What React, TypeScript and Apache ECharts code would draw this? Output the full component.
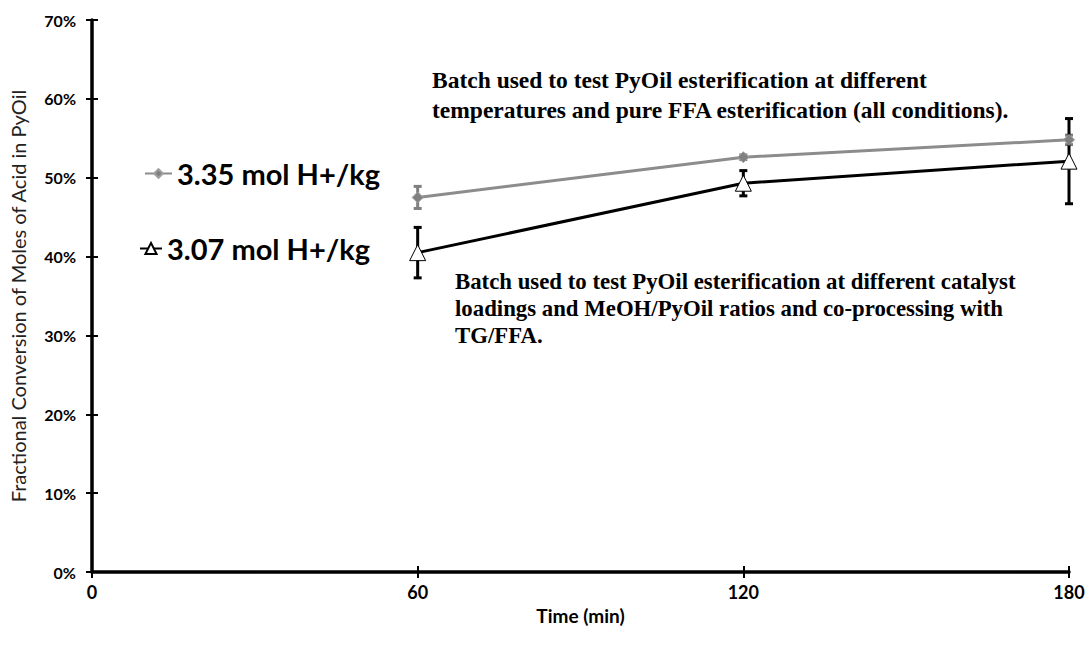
import React, { useEffect, useRef } from "react";
import * as echarts from "echarts";

// Time points (min)
const times = [60, 120, 180];

// Fractional conversion (%) for each acid-content batch
const batchHighLabel = "3.35 mol H+/kg";
const batchHighValues = [47.5, 52.6, 54.8];
const batchHighErr = [1.4, 0.3, 0.6];

const batchLowLabel = "3.07 mol H+/kg";
const batchLowValues = [40.5, 49.3, 52.1];
const batchLowErr = [3.2, 1.6, 5.4];

const xTicks = [0, 60, 120, 180];
const yTicks = [0, 10, 20, 30, 40, 50, 60, 70];

const noteTop = [
  "Batch used to test PyOil esterification at different",
  "temperatures and pure FFA esterification (all conditions).",
];
const noteBottom = [
  "Batch used to test PyOil esterification at different catalyst",
  "loadings and MeOH/PyOil ratios and co-processing with",
  "TG/FFA.",
];

const labelFont = "Lato, 'Open Sans', sans-serif";
const serifFont = "'Liberation Serif', 'DejaVu Serif', serif";

function errorBarSeries(values: number[], errs: number[], color: string) {
  const data = times.map((t, i) => [t, values[i] - errs[i], values[i] + errs[i]]);
  return {
    type: "custom",
    silent: true,
    z: 3,
    renderItem: (_params: any, api: any) => {
      const x = api.value(0);
      const lo = api.coord([x, api.value(1)]);
      const hi = api.coord([x, api.value(2)]);
      const cap = 4;
      const style = { stroke: color, lineWidth: 3 };
      return {
        type: "group",
        children: [
          { type: "line", shape: { x1: lo[0], y1: lo[1], x2: hi[0], y2: hi[1] }, style },
          { type: "line", shape: { x1: hi[0] - cap, y1: hi[1], x2: hi[0] + cap, y2: hi[1] }, style },
          { type: "line", shape: { x1: lo[0] - cap, y1: lo[1], x2: lo[0] + cap, y2: lo[1] }, style },
        ],
      };
    },
    data,
  };
}

export default function App() {
  const ref = useRef<HTMLDivElement>(null);

  useEffect(() => {
    if (!ref.current) return;
    const chart = echarts.init(ref.current, null, { renderer: "svg" });
    const grid = { left: 85, right: 22, top: 20, bottom: 75, containLabel: false };
    const axisLine = { lineStyle: { color: "#000", width: 3.5 } };
    const legendText = { fontFamily: labelFont, fontWeight: "bold", fontSize: 29, color: "#000" };

    const option: any = {
      animation: false,
      backgroundColor: "#fff",
      grid,
      legend: [
        {
          data: [batchHighLabel],
          left: 139,
          top: 154,
          itemWidth: 27,
          itemHeight: 11,
          itemGap: 2,
          textStyle: legendText,
        },
        {
          data: [batchLowLabel],
          left: 134,
          top: 229,
          itemWidth: 22,
          itemHeight: 14,
          itemGap: 2,
          textStyle: legendText,
        },
      ],
      xAxis: [
        {
          type: "value",
          min: 0,
          max: 180,
          interval: 60,
          name: "Time (min)",
          nameLocation: "middle",
          nameGap: 34,
          nameTextStyle: { fontFamily: labelFont, fontWeight: "bold", fontSize: 19, color: "#000" },
          axisLine,
          axisTick: { show: true, length: 6, lineStyle: { color: "#000", width: 2 } },
          axisLabel: {
            fontFamily: labelFont,
            fontWeight: "bold",
            fontSize: 18,
            color: "#000",
            margin: 11,
            customValues: xTicks,
          },
          splitLine: { show: false },
        },
        {
          type: "value",
          min: 0,
          max: 180,
          interval: 60,
          position: "bottom",
          axisLine: { show: false },
          axisTick: { show: true, inside: true, length: 6, lineStyle: { color: "#000", width: 2 } },
          axisLabel: { show: false },
          splitLine: { show: false },
        },
      ],
      yAxis: [
        {
          type: "value",
          min: 0,
          max: 70,
          interval: 10,
          name: "Fractional Conversion of Moles of Acid in PyOil",
          nameLocation: "middle",
          nameGap: 64,
          nameTextStyle: { fontFamily: labelFont, fontSize: 20, color: "#222" },
          axisLine,
          axisTick: { show: true, length: 6, lineStyle: { color: "#000", width: 2 } },
          axisLabel: {
            fontFamily: labelFont,
            fontWeight: "bold",
            fontSize: 16,
            color: "#000",
            margin: 16,
            formatter: "{value}%",
            customValues: yTicks,
          },
          splitLine: { show: false },
        },
        {
          type: "value",
          min: 0,
          max: 70,
          interval: 10,
          position: "left",
          axisLine: { show: false },
          axisTick: { show: true, inside: true, length: 6, lineStyle: { color: "#000", width: 2 } },
          axisLabel: { show: false },
          splitLine: { show: false },
        },
      ],
      series: [
        errorBarSeries(batchHighValues, batchHighErr, "#7f7f7f"),
        errorBarSeries(batchLowValues, batchLowErr, "#000"),
        {
          name: batchHighLabel,
          type: "line",
          z: 4,
          data: times.map((t, i) => [t, batchHighValues[i]]),
          lineStyle: { color: "#8c8c8c", width: 3 },
          itemStyle: { color: "#808080", borderColor: "#a0a0a0", borderWidth: 1 },
          symbol: "diamond",
          symbolSize: 11,
        },
        {
          name: batchLowLabel,
          type: "line",
          z: 5,
          data: times.map((t, i) => [t, batchLowValues[i]]),
          lineStyle: { color: "#000", width: 3 },
          itemStyle: { color: "#fff", borderColor: "#000", borderWidth: 1 },
          symbol: "triangle",
          symbolSize: 16,
        },
      ],
      graphic: [
        {
          type: "text",
          left: 432,
          top: 65,
          style: {
            text: noteTop.join("\n"),
            fontFamily: serifFont,
            fontWeight: "bold",
            fontSize: 23.5,
            lineHeight: 30,
            fill: "#000",
          },
        },
        {
          type: "text",
          left: 455,
          top: 268,
          style: {
            text: noteBottom.join("\n"),
            fontFamily: serifFont,
            fontWeight: "bold",
            fontSize: 22.8,
            lineHeight: 27,
            fill: "#000",
          },
        },
      ],
    };
    chart.setOption(option);
    return () => chart.dispose();
  }, []);

  return (
    <div
      ref={ref}
      style={{ position: "fixed", left: 0, top: 0, width: 1091, height: 647 }}
    />
  );
}
